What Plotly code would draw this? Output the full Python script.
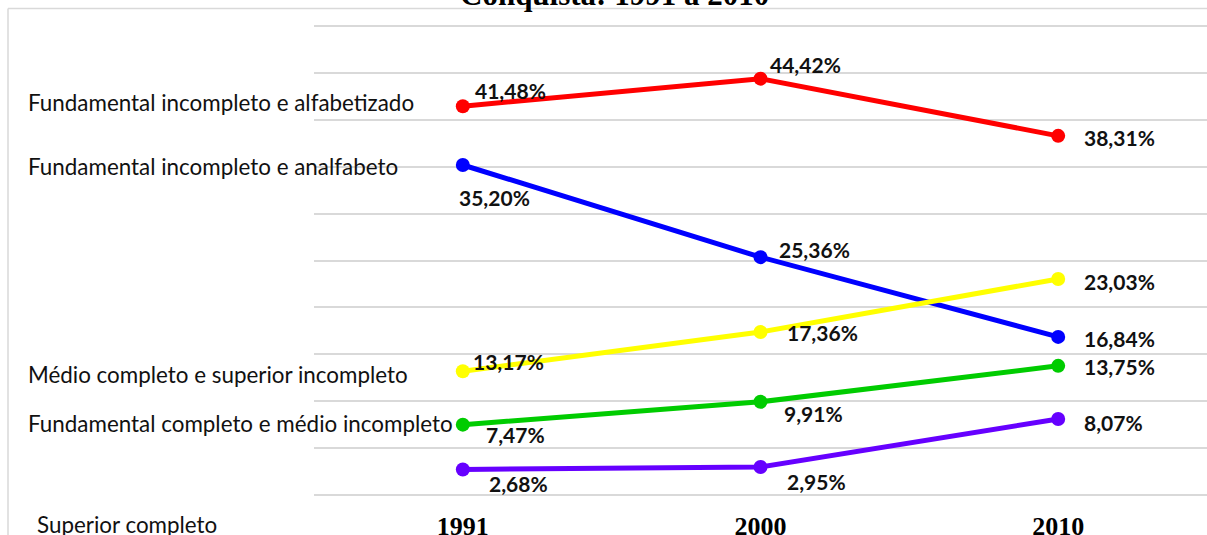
import plotly.graph_objects as go

years = ["1991", "2000", "2010"]
red_vals = [41.48, 44.42, 38.31]
blue_vals = [35.20, 25.36, 16.84]
yellow_vals = [13.17, 17.36, 23.03]
green_vals = [7.47, 9.91, 13.75]
purple_vals = [2.68, 2.95, 8.07]

left_labels = [
    "Fundamental incompleto e alfabetizado",
    "Fundamental incompleto e analfabeto",
    "Médio completo e superior incompleto",
    "Fundamental completo e médio incompleto",
    "Superior completo",
]
title_text = "Conquista: 1991 a 2010"

series = [
    (red_vals, "#FF0000"),
    (blue_vals, "#0000FF"),
    (yellow_vals, "#FFFF00"),
    (green_vals, "#00CC00"),
    (purple_vals, "#6600FF"),
]

# label pixel offsets (xshift, yshift) per series/point
offsets = [
    [(10, 16), (7, 14), (24, -2)],
    [(-6, -33), (16, 8), (24, -2)],
    [(8, 10), (24, 0), (24, -3)],
    [(21, -10), (21, -12), (24, -1)],
    [(24, -14), (24, -15), (24, -3)],
]

def fmt(v):
    return f"{v:.2f}".replace(".", ",") + "%"

fig = go.Figure()
annotations = []
for (vals, color), offs in zip(series, offsets):
    fig.add_trace(go.Scatter(
        x=years, y=vals, mode="lines+markers",
        line=dict(color=color, width=5),
        marker=dict(color=color, size=14),
        showlegend=False, hoverinfo="skip",
    ))
    for i, (yv, (dx, dy)) in enumerate(zip(vals, offs)):
        annotations.append(dict(
            x=i, y=yv, xref="x", yref="y", text=fmt(yv), showarrow=False,
            xanchor="left", yanchor="middle", xshift=dx, yshift=dy,
            font=dict(family="Lato", size=21, color="#111111", weight="bold"),
        ))

W, H = 1207, 535
YMIN, YMAX = 0, 50
PAD = 0.15
L, R = 314, 0
PX_PER_UNIT = (495 - 26.5) / (YMAX - YMIN)
T = 26.5 - PAD * PX_PER_UNIT
B = 40 - PAD * PX_PER_UNIT
pw = W - L - R
ph = H - T - B

def px(xp):
    return (xp - L) / pw

def py(yp):
    return (H - B - yp) / ph

label_pos = [(26, 103), (26, 167), (26, 375), (26, 424), (35, 525)]
for txt, (lx, ly) in zip(left_labels, label_pos):
    annotations.append(dict(
        x=px(lx), y=py(ly), xref="paper", yref="paper", text=txt,
        showarrow=False, xanchor="left", yanchor="middle",
        font=dict(family="Lato", size=22.4, color="#111111"),
    ))

annotations.append(dict(
    x=px(614), y=py(14), xref="paper", yref="paper", text=title_text,
    showarrow=False, xanchor="center", yanchor="bottom",
    font=dict(family="Liberation Serif", size=31, color="#000000", weight="bold"),
))

shapes = [
    dict(type="line", xref="paper", yref="paper", x0=px(8), x1=px(W + 5),
         y0=py(8.5), y1=py(8.5), line=dict(color="#D9D9D9", width=1.5)),
    dict(type="line", xref="paper", yref="paper", x0=px(8), x1=px(8),
         y0=py(8.5), y1=py(H + 5), line=dict(color="#D9D9D9", width=1.5)),
]

fig.update_layout(
    template="none",
    width=W, height=H,
    margin=dict(l=L, r=R, t=T, b=B, pad=0),
    paper_bgcolor="white", plot_bgcolor="white",
    annotations=annotations, shapes=shapes,
    xaxis=dict(
        type="category", range=[-0.5, 2.5], showgrid=False, zeroline=False,
        showline=False, ticks="", ticklabelstandoff=12, automargin=False,
        tickfont=dict(family="Liberation Serif", size=26, color="#000000", weight="bold"),
    ),
    yaxis=dict(
        range=[YMIN - PAD, YMAX + PAD], tickvals=list(range(YMIN, YMAX + 1, 5)),
        showgrid=True, gridcolor="#D9D9D9", gridwidth=1.5, automargin=False,
        zeroline=False, showticklabels=False, ticks="", showline=False,
    ),
)

fig.write_html(
    "out.html",
    config={"displayModeBar": False},
    post_script="document.body.style.margin='0';document.body.style.overflow='hidden';",
)
